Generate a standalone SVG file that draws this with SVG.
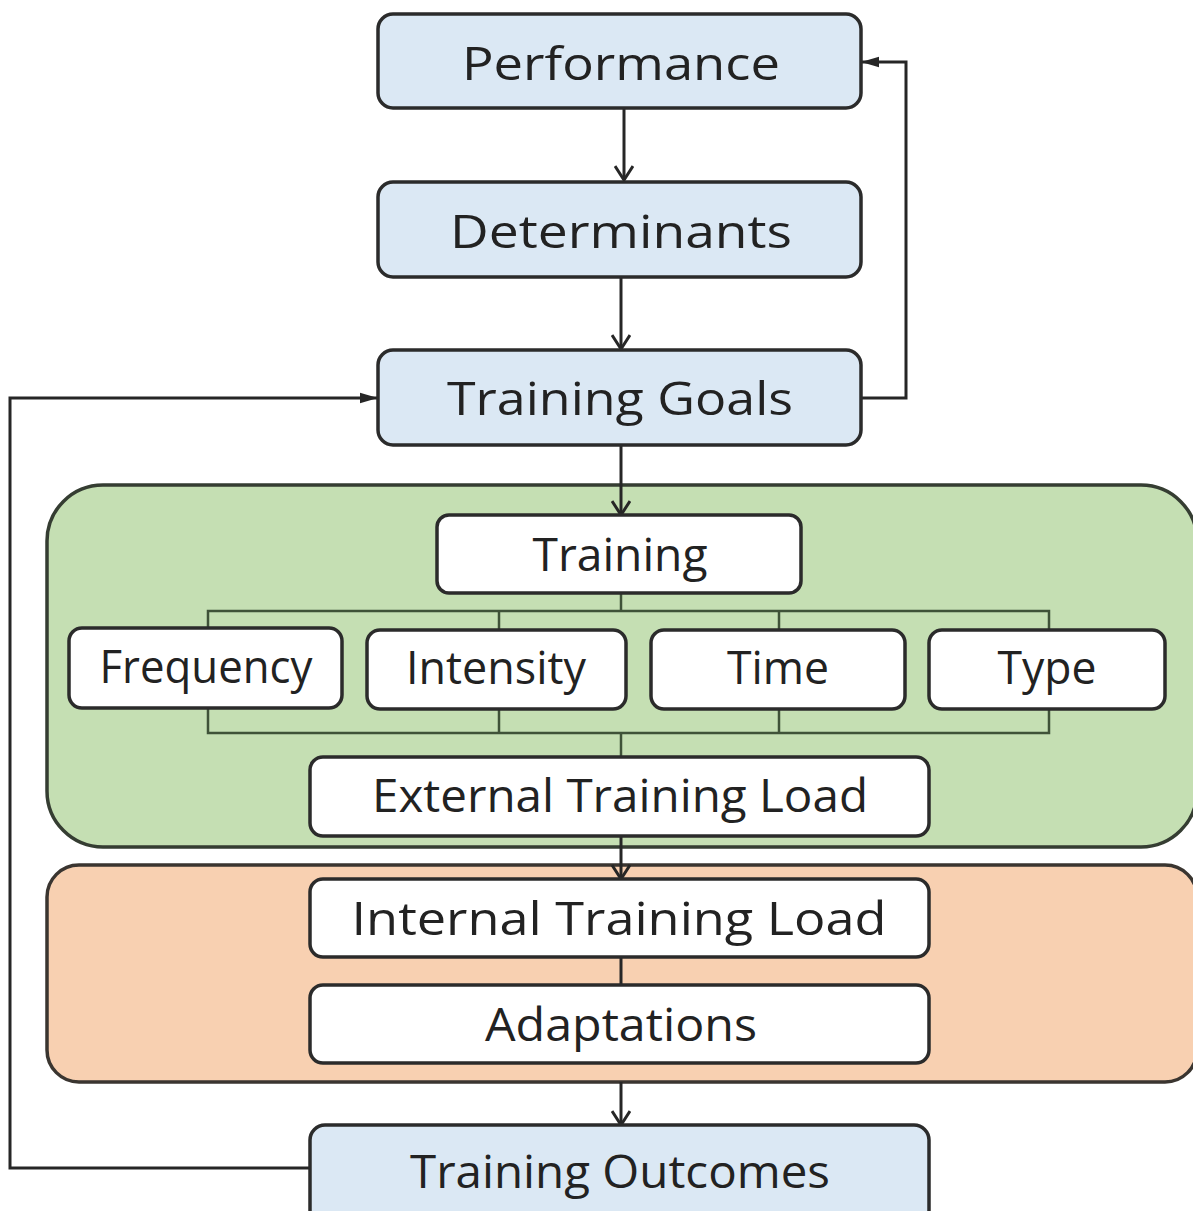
<svg xmlns="http://www.w3.org/2000/svg" width="1193" height="1211" viewBox="0 0 1193 1211">
  <defs>
    <style>
      .bg { fill: #ffffff; }
      .blue { fill: #dbe8f4; stroke: #2b2b2b; stroke-width: 3.5; }
      .white { fill: #ffffff; stroke: #2b2b2b; stroke-width: 3.5; }
      .zone-green { fill: #c5dfb3; stroke: #353d32; stroke-width: 3.5; }
      .zone-orange { fill: #f8d0b1; stroke: #3a3530; stroke-width: 3.5; }
      .label { font-family: "Open Sans", "Liberation Sans", sans-serif; font-size: 46px; fill: #222222; text-anchor: middle; }
      .flow { fill: none; stroke: #262626; stroke-width: 3; }
      .tree { fill: none; stroke: #3f5238; stroke-width: 2.5; }
    </style>
    <!-- open chevron head for the main downward flow -->
    <marker id="vee" viewBox="0 0 20 20" refX="18" refY="10" markerWidth="20" markerHeight="20" markerUnits="userSpaceOnUse" orient="auto">
      <path d="M4,1 L18,10 L4,19" fill="none" stroke="#262626" stroke-width="3"/>
    </marker>
    <!-- small solid head for the feedback loops -->
    <marker id="tri" viewBox="0 0 20 14" refX="19" refY="7" markerWidth="18" markerHeight="13" markerUnits="userSpaceOnUse" orient="auto">
      <path d="M0,1 L20,7 L0,13 Z" fill="#262626"/>
    </marker>
  </defs>

  <rect class="bg" x="0" y="0" width="1193" height="1211"/>

  <!-- grouping zones -->
  <g id="zone-training">
    <rect class="zone-green" x="47" y="485" width="1150" height="362" rx="56"/>
  </g>
  <g id="zone-response">
    <rect class="zone-orange" x="47" y="865" width="1150" height="217" rx="32"/>
  </g>

  <!-- connectors -->
  <g id="connectors">
    <line class="flow" x1="624" y1="108" x2="624" y2="180" marker-end="url(#vee)"/>
    <line class="flow" x1="621" y1="277" x2="621" y2="349" marker-end="url(#vee)"/>
    <line class="flow" x1="621" y1="445" x2="621" y2="515" marker-end="url(#vee)"/>
    <line class="flow" x1="621" y1="836" x2="621" y2="879" marker-end="url(#vee)"/>
    <line class="flow" x1="621" y1="957" x2="621" y2="985"/>
    <line class="flow" x1="621" y1="1082" x2="621" y2="1125" marker-end="url(#vee)"/>
    <!-- feedback: goals back to performance -->
    <polyline class="flow" points="861,398 906,398 906,62 862,62" marker-end="url(#tri)"/>
    <!-- feedback: outcomes back to goals -->
    <polyline class="flow" points="310,1168 10,1168 10,398 377,398" marker-end="url(#tri)"/>
    <!-- branching into the training variables and back out -->
    <polyline class="tree" points="621,593 621,611"/>
    <polyline class="tree" points="208,630 208,611 1049,611 1049,630"/>
    <line class="tree" x1="499" y1="611" x2="499" y2="630"/>
    <line class="tree" x1="779" y1="611" x2="779" y2="630"/>
    <polyline class="tree" points="208,708 208,733 1049,733 1049,708"/>
    <line class="tree" x1="499" y1="709" x2="499" y2="733"/>
    <line class="tree" x1="779" y1="709" x2="779" y2="733"/>
    <line class="tree" x1="621" y1="733" x2="621" y2="757"/>
  </g>

  <g id="performance">
    <rect class="blue" x="378" y="14" width="483" height="94" rx="15"/>
    <text class="label" x="621" y="80" textLength="318" lengthAdjust="spacingAndGlyphs">Performance</text>
  </g>
  <g id="determinants">
    <rect class="blue" x="378" y="182" width="483" height="95" rx="15"/>
    <text class="label" x="621" y="248" textLength="342" lengthAdjust="spacingAndGlyphs">Determinants</text>
  </g>
  <g id="training-goals">
    <rect class="blue" x="378" y="350" width="483" height="95" rx="15"/>
    <text class="label" x="620" y="415" textLength="346" lengthAdjust="spacingAndGlyphs">Training Goals</text>
  </g>

  <g id="training">
    <rect class="white" x="437" y="515" width="364" height="78" rx="12"/>
    <text class="label" x="620" y="571" textLength="175" lengthAdjust="spacingAndGlyphs">Training</text>
  </g>
  <g id="frequency">
    <rect class="white" x="69" y="628" width="273" height="80" rx="13"/>
    <text class="label" x="206" y="683" textLength="213" lengthAdjust="spacingAndGlyphs">Frequency</text>
  </g>
  <g id="intensity">
    <rect class="white" x="367" y="630" width="259" height="79" rx="13"/>
    <text class="label" x="496" y="684" textLength="180" lengthAdjust="spacingAndGlyphs">Intensity</text>
  </g>
  <g id="time">
    <rect class="white" x="651" y="630" width="254" height="79" rx="13"/>
    <text class="label" x="778" y="684" textLength="102" lengthAdjust="spacingAndGlyphs">Time</text>
  </g>
  <g id="type">
    <rect class="white" x="929" y="630" width="236" height="79" rx="13"/>
    <text class="label" x="1047" y="684" textLength="99" lengthAdjust="spacingAndGlyphs">Type</text>
  </g>
  <g id="external-load">
    <rect class="white" x="310" y="757" width="619" height="79" rx="13"/>
    <text class="label" x="620" y="812" textLength="496" lengthAdjust="spacingAndGlyphs">External Training Load</text>
  </g>

  <g id="internal-load">
    <rect class="white" x="310" y="879" width="619" height="78" rx="13"/>
    <text class="label" x="619" y="935" textLength="535" lengthAdjust="spacingAndGlyphs">Internal Training Load</text>
  </g>
  <g id="adaptations">
    <rect class="white" x="310" y="985" width="619" height="78" rx="13"/>
    <text class="label" x="621" y="1041" textLength="272" lengthAdjust="spacingAndGlyphs">Adaptations</text>
  </g>

  <g id="training-outcomes">
    <rect class="blue" x="310" y="1125" width="619" height="100" rx="15"/>
    <text class="label" x="620" y="1188" textLength="420" lengthAdjust="spacingAndGlyphs">Training Outcomes</text>
  </g>
</svg>
